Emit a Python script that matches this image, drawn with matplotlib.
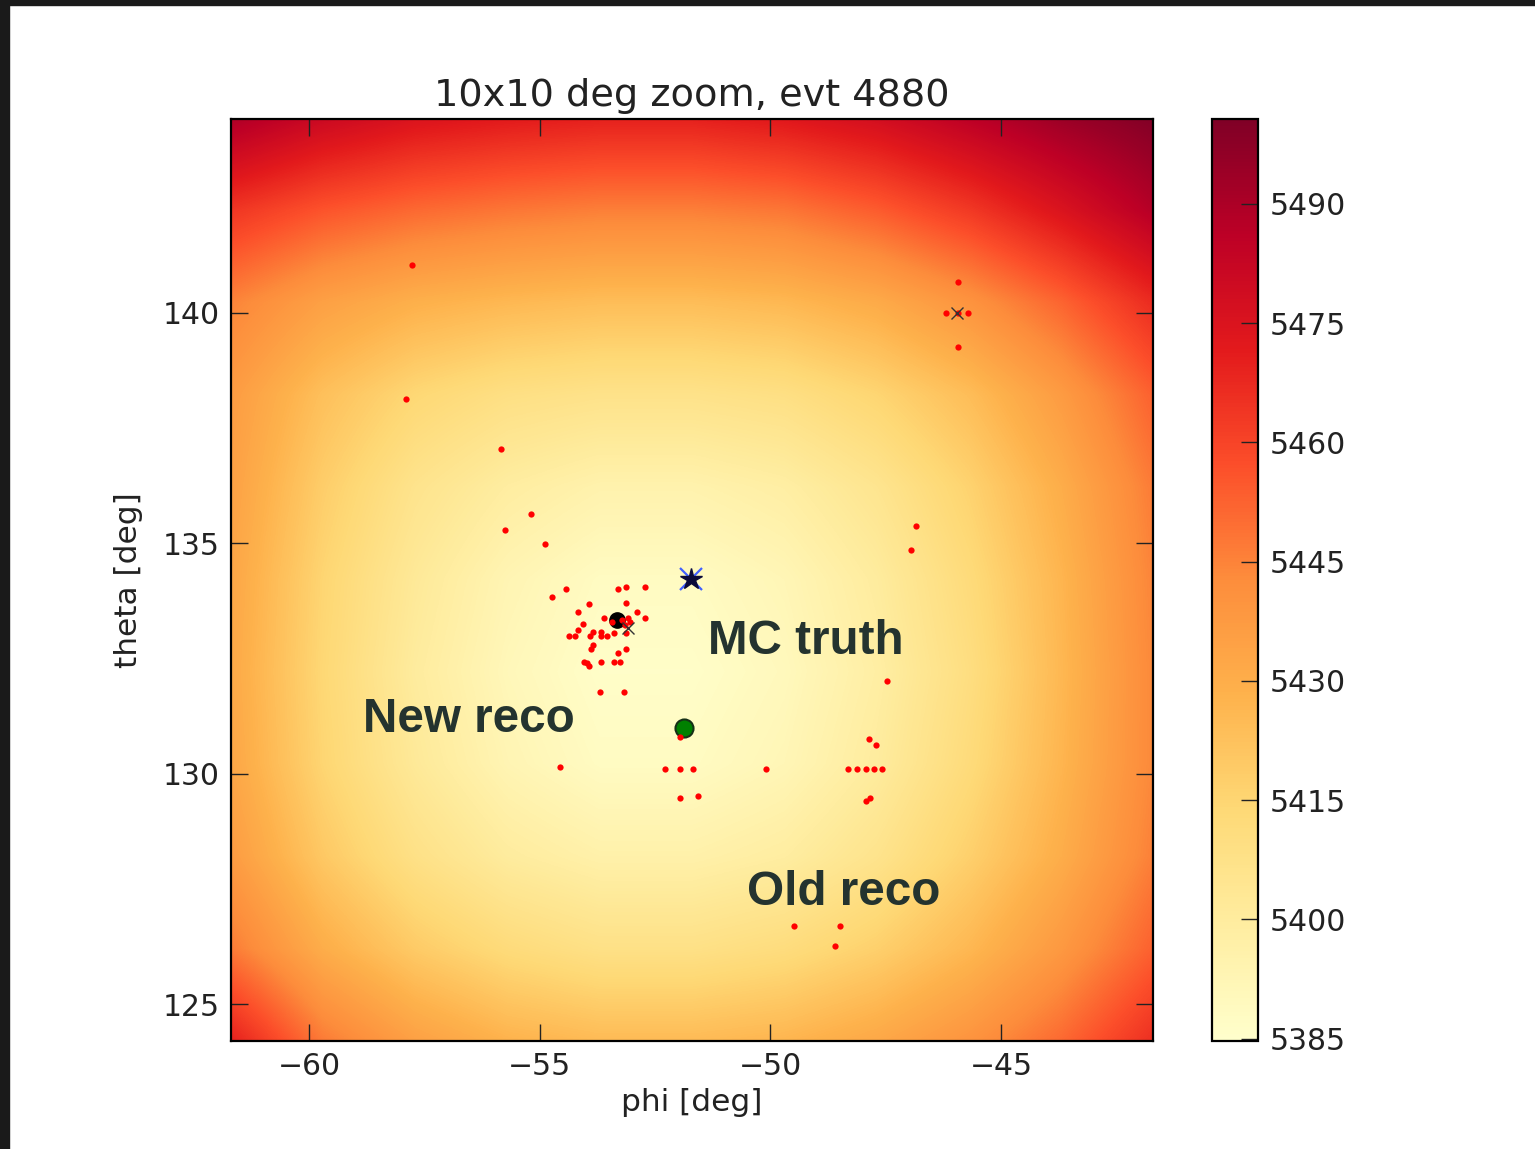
import matplotlib
matplotlib.use("Agg")
import matplotlib.pyplot as plt
import numpy as np
from matplotlib.patches import Rectangle

# likelihood scan around the MC direction, sampled every 2 deg
phi_nodes = [-61.7, -59.7, -57.7, -55.7, -53.7, -51.7, -49.7, -47.7, -45.7, -43.7, -41.7]
theta_nodes = [144.2, 142.2, 140.2, 138.2, 136.2, 134.2, 132.2, 130.2, 128.2, 126.2, 124.2]
llh_grid = [
    [5490, 5481, 5475, 5472, 5470, 5470, 5473, 5478, 5486, 5494, 5500],
    [5464, 5456, 5451, 5448, 5446, 5446, 5448, 5454, 5463, 5475, 5488],
    [5445, 5435, 5429, 5426, 5424, 5424, 5426, 5431, 5440, 5452, 5467],
    [5437, 5423, 5414, 5409, 5407, 5407, 5409, 5415, 5424, 5437, 5453],
    [5435, 5418, 5406, 5399, 5395, 5395, 5398, 5405, 5416, 5430, 5447],
    [5433, 5415, 5402, 5393, 5388, 5388, 5392, 5400, 5412, 5427, 5445],
    [5432, 5414, 5400, 5391, 5386, 5386, 5390, 5398, 5410, 5426, 5444],
    [5433, 5415, 5402, 5393, 5388, 5388, 5392, 5400, 5412, 5427, 5444],
    [5437, 5420, 5408, 5400, 5396, 5396, 5399, 5406, 5417, 5430, 5446],
    [5447, 5430, 5419, 5412, 5408, 5408, 5411, 5417, 5426, 5438, 5453],
    [5470, 5447, 5435, 5428, 5425, 5425, 5427, 5432, 5440, 5451, 5466],
]

# single-hit reconstructed directions
hit_phi = [-57.77, -57.90, -55.84, -55.75, -55.19, -54.88,
           -45.93, -46.19, -45.93, -45.71, -45.93,
           -46.84, -46.95, -47.47, -47.86, -47.71,
           -48.32, -48.12, -47.93, -47.75, -47.58,
           -47.93, -47.84, -50.09,
           -52.28, -51.96, -51.68, -51.96, -51.57,
           -54.56, -49.49, -48.49, -48.60, -51.96,
           -54.73, -54.43, -53.31, -53.13, -52.72,
           -53.93, -53.13, -54.18, -52.89, -52.72,
           -53.60, -54.07, -54.18, -53.84, -53.68,
           -54.36, -54.23, -53.92, -53.68, -53.55,
           -53.39, -53.13, -53.84, -53.89, -53.13,
           -53.31, -54.05, -53.98, -53.93, -53.68,
           -53.39, -53.26, -53.69, -53.17,
           -53.22, -53.10, -53.04, -53.15, -53.43]
hit_theta = [141.04, 138.13, 137.05, 135.29, 135.62, 134.99,
             140.67, 139.98, 139.98, 139.98, 139.26,
             135.38, 134.84, 132.00, 130.76, 130.63,
             130.09, 130.09, 130.09, 130.09, 130.09,
             129.41, 129.46, 130.11,
             130.11, 130.11, 130.11, 129.46, 129.52,
             130.15, 126.70, 126.70, 126.25, 130.80,
             133.83, 134.00, 134.00, 134.04, 134.04,
             133.67, 133.70, 133.50, 133.50, 133.37,
             133.37, 133.25, 133.12, 133.08, 133.08,
             132.99, 132.99, 132.99, 132.99, 132.99,
             133.04, 133.04, 132.78, 132.70, 132.70,
             132.62, 132.41, 132.40, 132.34, 132.41,
             132.41, 132.41, 131.76, 131.76,
             133.33, 133.38, 133.28, 133.23, 133.28]

new_reco = (-53.33, 133.33)
old_reco = (-51.87, 130.98)
mc_truth = (-51.72, 134.23)
seed_phi = [-45.95, -53.10]
seed_theta = [139.98, 133.16]

cbar_ticks = [5385, 5400, 5415, 5430, 5445, 5460, 5475, 5490]

fig = plt.figure(figsize=(15.35, 11.49), dpi=100)
ax = fig.add_axes([0.1505, 0.0940, 0.6007, 0.8025])
cax = fig.add_axes([0.7896, 0.0940, 0.0300, 0.8025])

half = 0.5 * (phi_nodes[1] - phi_nodes[0])
extent = [phi_nodes[0] - half, phi_nodes[-1] + half,
          theta_nodes[-1] - half, theta_nodes[0] + half]
im = ax.imshow(np.array(llh_grid), cmap="YlOrRd", extent=extent,
               interpolation="bilinear", vmin=5384.7, vmax=5500.7,
               aspect="auto", zorder=1)

ax.plot(new_reco[0], new_reco[1], "o", color="black", ms=11, zorder=3)
ax.plot(old_reco[0], old_reco[1], "o", color="green", mec="#163016",
        mew=1.5, ms=13, zorder=3)
ax.plot(hit_phi, hit_theta, "o", color="red", mew=0, ms=4.5, zorder=4)
ax.plot(seed_phi, seed_theta, "x", color="#333333", ms=8, mew=1.0, zorder=5)
ax.plot(mc_truth[0], mc_truth[1], "x", color="#4060ff", ms=16, mew=1.6, zorder=5)
ax.plot(mc_truth[0], mc_truth[1], "*", color="#0a0a3a", ms=16, zorder=6)

label_kw = dict(fontsize=34.3, fontweight="bold", color="#24332f",
                family="Liberation Sans", zorder=7)
ax.text(-51.35, 132.60, "MC truth", **label_kw)
ax.text(-58.83, 130.91, "New reco", **label_kw)
ax.text(-50.50, 127.16, "Old reco", **label_kw)

ax.set_xlim(phi_nodes[0], phi_nodes[-1])
ax.set_ylim(theta_nodes[-1], theta_nodes[0])
ax.set_xticks([-60, -55, -50, -45])
ax.set_yticks([125, 130, 135, 140])
ax.tick_params(direction="in", length=12, width=1.0, top=True, right=True,
               labelsize=21.5, pad=8, colors="#222222")
for s in ax.spines.values():
    s.set_linewidth(1.6)
ax.set_title("10x10 deg zoom, evt 4880", fontsize=27.5, pad=9, color="#222222")
ax.set_xlabel("phi [deg]", fontsize=22.5, labelpad=5, color="#222222")
ax.set_ylabel("theta [deg]", fontsize=22.5, labelpad=14, color="#222222")

cbar = fig.colorbar(im, cax=cax, ticks=cbar_ticks)
cbar.outline.set_linewidth(1.6)
cax.tick_params(direction="in", length=12, width=1.0, labelsize=21.5,
                pad=8, colors="#222222")

# dark frame strips along top and left
fig.patches.append(Rectangle((0, 1 - 5 / 1149), 1, 5 / 1149,
                             transform=fig.transFigure, color="#1a1a1a"))
fig.patches.append(Rectangle((0, 0), 9 / 1535, 1,
                             transform=fig.transFigure, color="#1a1a1a"))

fig.savefig("out.png", dpi=100, facecolor="white")
